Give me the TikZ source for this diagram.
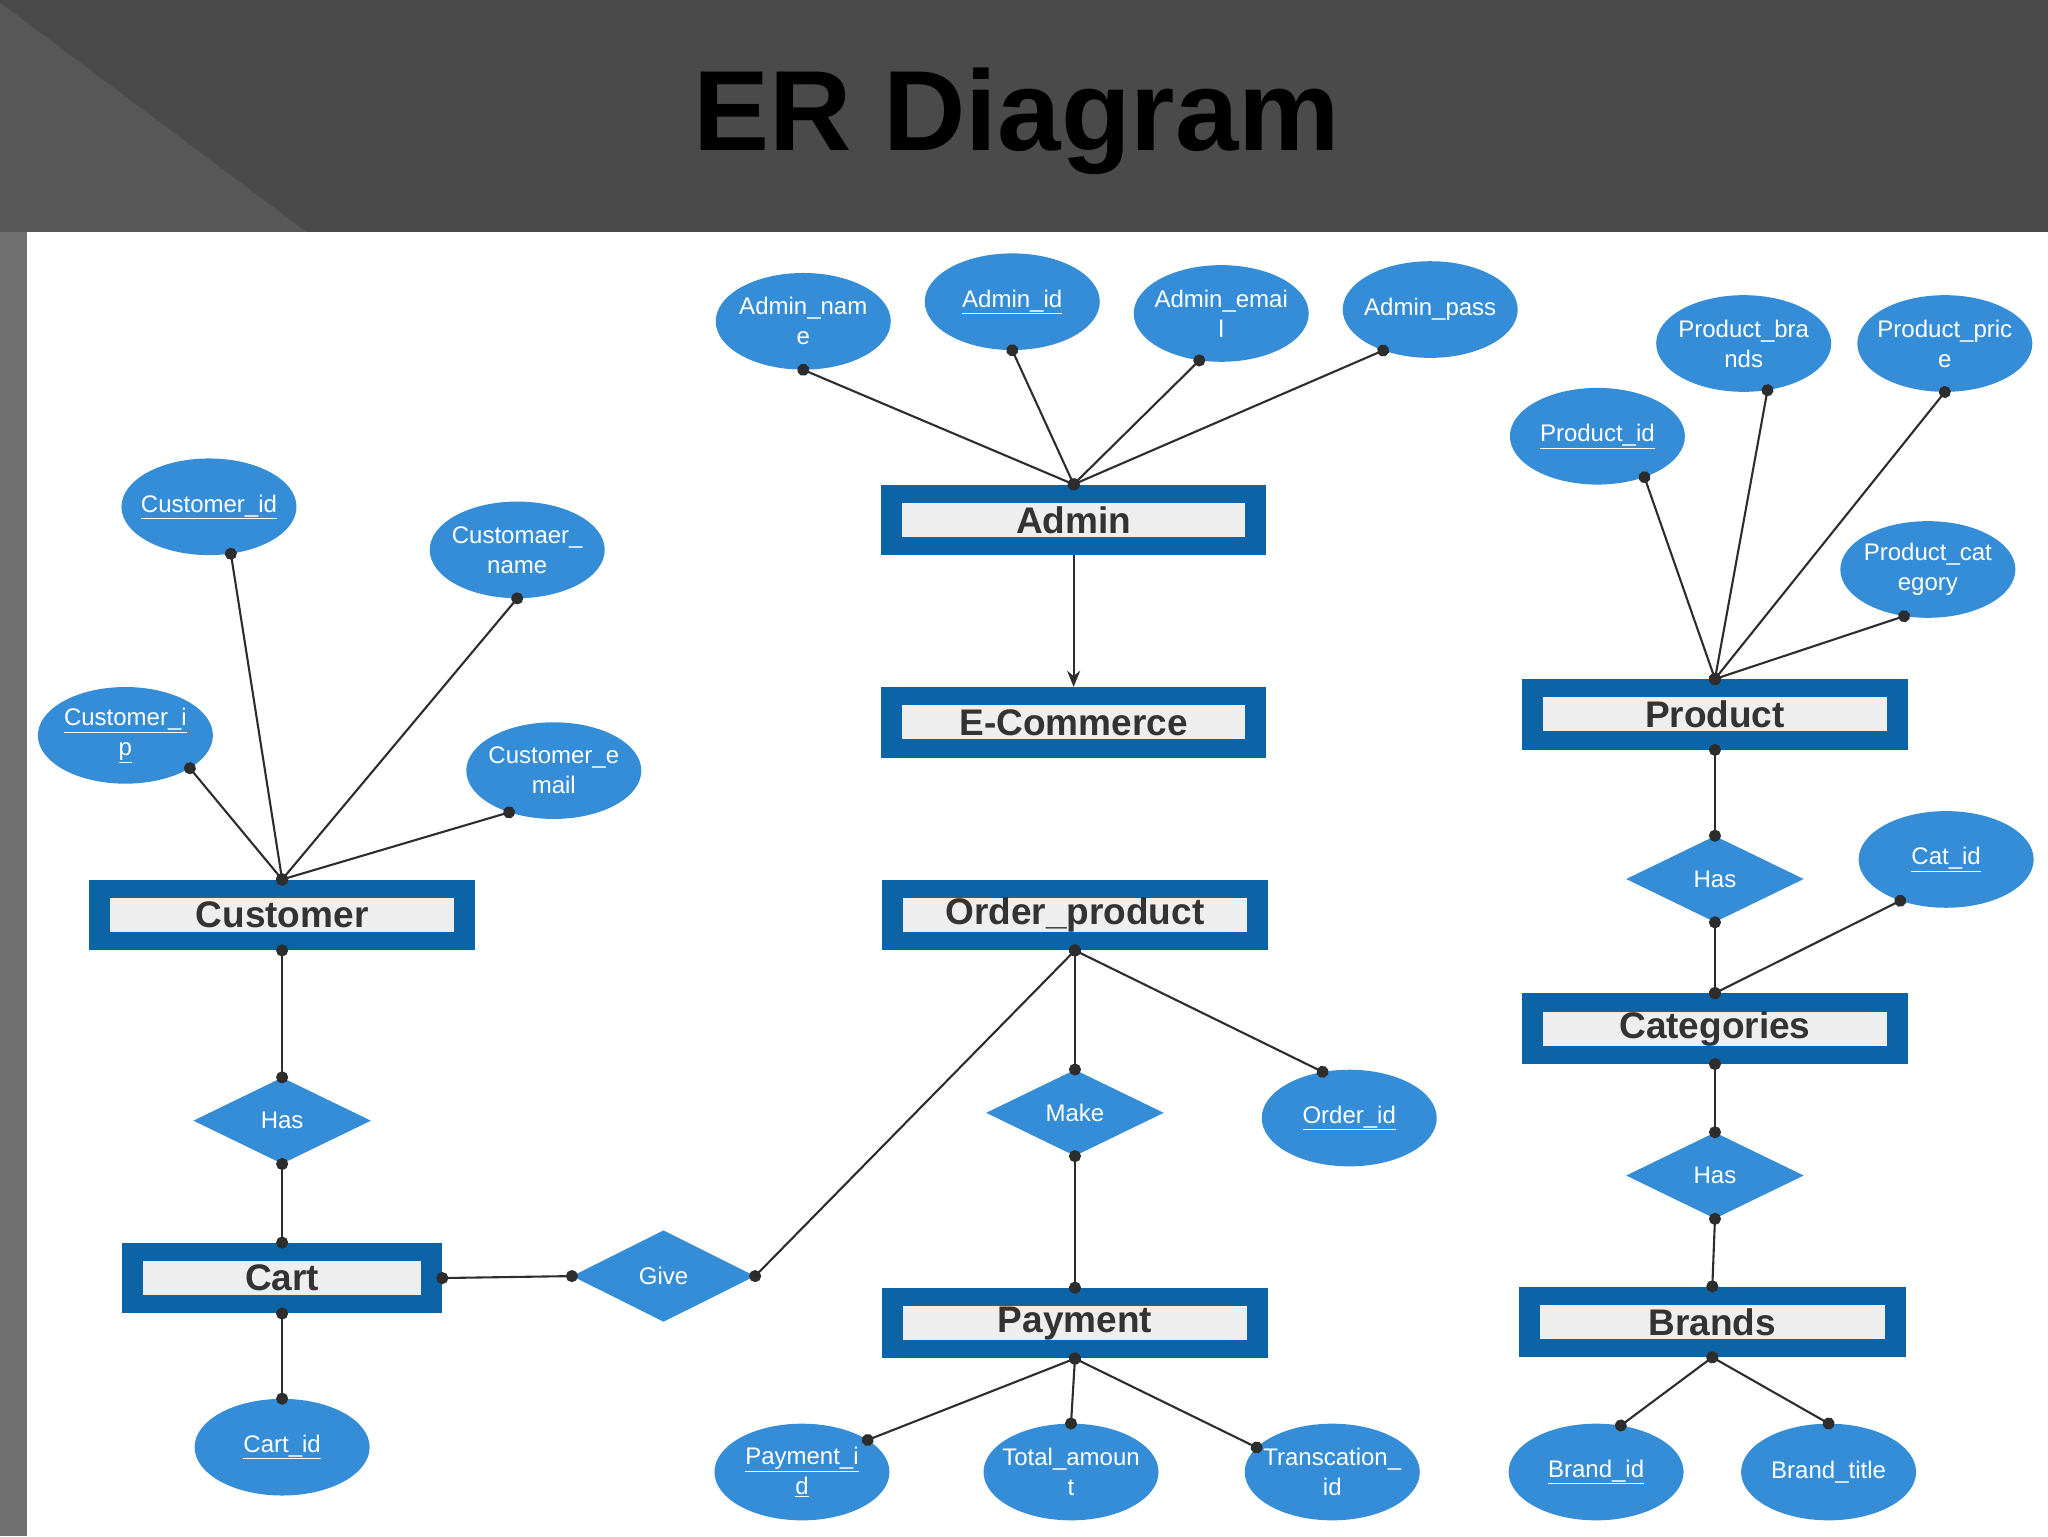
\documentclass[tikz,border=0pt]{standalone}
\usepackage{fontspec}
\setmainfont{Liberation Sans}
\usetikzlibrary{shapes.geometric,arrows.meta}
\definecolor{attrblue}{RGB}{52,141,214}
\definecolor{frameblue}{RGB}{12,100,166}
\definecolor{barbg}{RGB}{238,238,238}
\definecolor{enttext}{RGB}{51,51,51}
\definecolor{linecol}{RGB}{45,45,45}
\definecolor{topgrey}{RGB}{74,74,74}
\definecolor{trigrey}{RGB}{88,88,88}
\definecolor{stripgrey}{RGB}{112,112,112}
\def\s{1.3061}
\tikzset{
  attr/.style={ellipse, fill=attrblue, minimum width=\s*134pt, minimum height=\s*74pt, inner sep=0pt},
  atext/.style={text=white, font=\fontsize{24}{30}\selectfont, align=center},
  rel/.style={diamond, fill=attrblue, minimum width=\s*136pt, minimum height=\s*66pt, inner sep=0pt, text=white, font=\fontsize{24}{28}\selectfont},
  ent/.style={rectangle, fill=frameblue, minimum width=\s*295pt, minimum height=\s*54pt, inner sep=0pt, text=enttext, font=\fontsize{37}{40}\selectfont\bfseries,
    path picture={\fill[barbg] ([xshift=\s*16pt,yshift=-\s*14pt]path picture bounding box.north west) rectangle ([xshift=-\s*16pt,yshift=\s*14pt]path picture bounding box.south east);}},
  conn/.style={draw=linecol, line width=2.1pt, arrows={Circle[length=12pt]-Circle[length=12pt]}, shorten <=-6pt, shorten >=-6pt},
  arrowconn/.style={draw=linecol, line width=2.1pt, arrows={-Stealth[length=16pt,width=13pt]}},
}
\begin{document}
\begin{tikzpicture}[x=1.3061pt, y=-1.3061pt]
\useasboundingbox (0,0) rectangle (1568,1176);
% background
\fill[topgrey] (0,0) rectangle (1568,178);
\fill[trigrey] (0,2) -- (235,178) -- (0,178) -- cycle;
\fill[stripgrey] (0,178) rectangle (21,1176);
\fill[white] (21,178) rectangle (1568,1176);
\node[anchor=base, font=\fontsize{114}{120}\selectfont\bfseries, text=black] (title) at (778.5,115) {ER Diagram};

% Admin
\node[attr, label={[atext]center:{Admin\_nam\\e}}] (aname) at (615,246) {};
\node[attr, label={[atext]center:{\underline{Admin\_id}}}] (aid) at (775,231) {};
\node[attr, label={[atext]center:{Admin\_emai\\l}}] (aemail) at (935,240) {};
\node[attr, label={[atext]center:{Admin\_pass}}] (apass) at (1095,237) {};
\node[ent] (admin) at (822,398) {Admin};
\node[ent] (ecom) at (822,553) {E-Commerce};

% Customer
\node[attr, label={[atext]center:{\underline{Customer\_id}}}] (cid) at (160,388) {};
\node[attr, label={[atext]center:{Customaer\_\\name}}] (cname) at (396,421) {};
\node[attr, label={[atext]center:{\underline{Customer\_i}\\\underline{p}}}] (cip) at (96,563) {};
\node[attr, label={[atext]center:{Customer\_e\\mail}}] (cemail) at (424,590) {};
\node[ent] (customer) at (216,700.5) {Customer};
\node[rel] (has1) at (216,858) {Has};
\node[ent, minimum width=\s*245pt] (cart) at (216,978.5) {Cart};
\node[attr, label={[atext]center:{\underline{Cart\_id}}}] (cartid) at (216,1108) {};
\node[rel, minimum width=\s*140pt, minimum height=\s*70pt] (give) at (508,977) {Give};

% Order / Payment
\node[ent] (op) at (823,700.5) {Order\_product};
\node[rel] (make) at (823,852) {Make};
\node[attr, label={[atext]center:{\underline{Order\_id}}}] (orderid) at (1033,856) {};
\node[ent] (payment) at (823,1013) {Payment};
\node[attr, label={[atext]center:{\underline{Payment\_i}\\\underline{d}}}] (payid) at (614,1127) {};
\node[attr, label={[atext]center:{Total\_amoun\\t}}] (total) at (820,1127) {};
\node[attr, label={[atext]center:{Transcation\_\\id}}] (trans) at (1020,1127) {};

% Product side
\node[attr, label={[atext]center:{Product\_bra\\nds}}] (pbrands) at (1335,263) {};
\node[attr, label={[atext]center:{Product\_pric\\e}}] (pprice) at (1489,263) {};
\node[attr, label={[atext]center:{\underline{Product\_id}}}] (pid) at (1223,334) {};
\node[attr, label={[atext]center:{Product\_cat\\egory}}] (pcat) at (1476,436) {};
\node[ent] (product) at (1313,547) {Product};
\node[rel] (has2) at (1313,673) {Has};
\node[attr, label={[atext]center:{\underline{Cat\_id}}}] (catid) at (1490,658) {};
\node[ent] (categories) at (1313,787.5) {Categories};
\node[rel] (has3) at (1313,900) {Has};
\node[ent, minimum width=\s*296pt] (brands) at (1311,1012) {Brands};
\node[attr, label={[atext]center:{\underline{Brand\_id}}}] (brandid) at (1222,1127) {};
\node[attr, label={[atext]center:{Brand\_title}}] (brandtitle) at (1400,1127) {};

% connectors
\draw[conn] (admin.north) -- (aname.south);
\draw[conn] (admin.north) -- (aid.south);
\draw[conn] (admin.north) -- (aemail.-115);
\draw[conn] (admin.north) -- (apass.-139);
\draw[arrowconn] (admin.south) -- (ecom.north);

\draw[conn] (customer.north) -- (cid.-65);
\draw[conn] (customer.north) -- (cname.south);
\draw[conn] (customer.north) -- (cip.-27);
\draw[conn] (customer.north) -- (cemail.-137);
\draw[conn] (customer.south) -- (has1.north);
\draw[conn] (has1.south) -- (cart.north);
\draw[conn] (cart.south) -- (cartid.north);
\draw[conn] (cart.east) -- (give.west);
\draw[conn] (give.east) -- (op.south);

\draw[conn] (op.south) -- (make.north);
\draw[conn] (op.south) -- (orderid.120);
\draw[conn] (make.south) -- (payment.north);
\draw[conn] (payment.south) -- (payid.26);
\draw[conn] (payment.south) -- (total.north);
\draw[conn] (payment.south) -- (trans.162);

\draw[conn] (product.north) -- (pid.-41);
\draw[conn] (product.north) -- (pbrands.-63);
\draw[conn] (product.north) -- (pprice.south);
\draw[conn] (product.north) -- (pcat.-117);
\draw[conn] (product.south) -- (has2.north);
\draw[conn] (has2.south) -- (categories.north);
\draw[conn] (categories.north) -- (catid.-138);
\draw[conn] (categories.south) -- (has3.north);
\draw[conn] (has3.south) -- (brands.north);
\draw[conn] (brands.south) -- (brandid.62);
\draw[conn] (brands.south) -- (brandtitle.north);
\end{tikzpicture}
\end{document}
